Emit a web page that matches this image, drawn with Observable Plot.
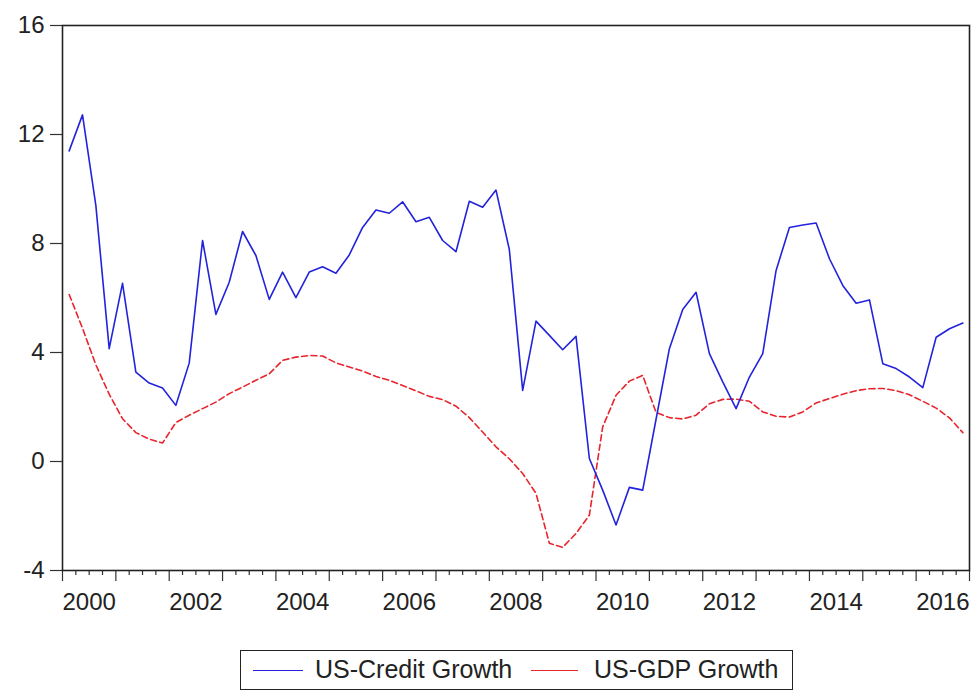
<!DOCTYPE html>
<html>
<head>
<meta charset="utf-8">
<script src="https://cdn.jsdelivr.net/npm/d3@7"></script>
<script src="https://cdn.jsdelivr.net/npm/@observablehq/plot@0.6"></script>
<style>
  html, body { margin: 0; padding: 0; background: #fff; }
  #wrap { position: relative; width: 977px; height: 694px; font-family: "Liberation Sans", Arial, sans-serif; }
  #legend { position: absolute; left: 240px; top: 650px; width: 553px; height: 40px; box-sizing: border-box;
            border: 1.5px solid #222; font-size: 25px; color: #222; }
  #legend .sw { position: absolute; top: 19px; height: 0; border-top: 1.5px solid; }
  #legend .lb { position: absolute; top: 0; line-height: 37px; white-space: nowrap; }
</style>
</head>
<body>
<div id="wrap">
  <div id="chart"></div>
  <div id="legend">
    <div class="sw" style="left:12px;width:50px;border-color:#2323dc"></div>
    <div class="lb" style="left:74px">US-Credit Growth</div>
    <div class="sw" style="left:290px;width:47px;border-color:#e8242c"></div>
    <div class="lb" style="left:353px">US-GDP Growth</div>
  </div>
</div>
<script>
// Quarterly series, 2000Q1 to 2016Q4 (year-on-year growth, %)
const startYear = 2000;
const endYear = 2016;

const creditGrowth = [
  11.40, 12.72, 9.40, 4.14,   // 2000
  6.54, 3.28, 2.88, 2.70,     // 2001
  2.06, 3.61, 8.11, 5.40,     // 2002
  6.58, 8.44, 7.56, 5.95,     // 2003
  6.95, 6.01, 6.95, 7.15,     // 2004
  6.91, 7.58, 8.59, 9.23,     // 2005
  9.11, 9.53, 8.80, 8.96,     // 2006
  8.11, 7.70, 9.55, 9.33,     // 2007
  9.96, 7.78, 2.61, 5.15,     // 2008
  4.63, 4.10, 4.59, 0.11,     // 2009
  -1.05, -2.33, -0.95, -1.05, // 2010
  1.55, 4.14, 5.58, 6.21,     // 2011
  3.96, 2.92, 1.94, 3.10,     // 2012
  3.96, 7.01, 8.59, 8.68,     // 2013
  8.75, 7.44, 6.46, 5.81,     // 2014
  5.93, 3.59, 3.41, 3.10,     // 2015
  2.71, 4.56, 4.87, 5.08      // 2016
];

const gdpGrowth = [
  6.13, 4.89, 3.55, 2.47,     // 2000
  1.57, 1.06, 0.82, 0.68,     // 2001
  1.43, 1.70, 1.94, 2.18,     // 2002
  2.49, 2.73, 2.98, 3.22,     // 2003
  3.71, 3.83, 3.89, 3.87,     // 2004
  3.62, 3.47, 3.32, 3.12,     // 2005
  2.98, 2.79, 2.59, 2.39,     // 2006
  2.27, 2.03, 1.61, 1.08,     // 2007
  0.54, 0.10, -0.44, -1.17,   // 2008
  -3.00, -3.15, -2.64, -1.97, // 2009
  1.27, 2.43, 2.95, 3.16,     // 2010
  1.80, 1.61, 1.56, 1.70,     // 2011
  2.12, 2.28, 2.29, 2.21,     // 2012
  1.82, 1.66, 1.63, 1.82,     // 2013
  2.15, 2.31, 2.47, 2.60,     // 2014
  2.67, 2.68, 2.60, 2.45,     // 2015
  2.21, 1.96, 1.60, 1.06      // 2016
];

const yTicks = [-4, 0, 4, 8, 12, 16];
const yearLabels = [2000, 2002, 2004, 2006, 2008, 2010, 2012, 2014, 2016];

// Each quarter sits in the middle of its span on a continuous year axis
const rows = creditGrowth.map((c, i) => {
  const year = startYear + Math.floor(i / 4);
  const q = (i % 4) + 1;
  return { quarter: `${year}Q${q}`, t: year + (q - 0.5) / 4, credit: c, gdp: gdpGrowth[i] };
});

const yearTicks = d3.range(startYear, endYear + 2);
const quarterTicks = d3.range(startYear * 4, (endYear + 1) * 4).map(d => d / 4).filter(d => d % 1 !== 0);
const labelTicks = yearLabels.map(y => y + 0.5);

const chart = Plot.plot({
  width: 977,
  height: 630,
  marginLeft: 62,
  marginRight: 8,
  marginTop: 25,
  marginBottom: 60,
  style: { fontFamily: "'Liberation Sans', Arial, sans-serif", fontSize: "24px", color: "#222", background: "#fff" },
  x: { domain: [startYear, endYear + 1], axis: null, label: null },
  y: { domain: [-4, 16], axis: null, label: null },
  marks: [
    Plot.axisY({ ticks: yTicks, label: null, tickSize: 12, tickPadding: 6, fontSize: 24, stroke: "#333", strokeWidth: 1.2, tickFormat: d => String(d) }),
    Plot.axisX({ ticks: yearTicks, label: null, tickSize: 11, stroke: "#333", strokeWidth: 1.2, tickFormat: () => "" }),
    Plot.axisX({ ticks: quarterTicks, label: null, tickSize: 5, stroke: "#333", strokeWidth: 1.2, tickFormat: () => "" }),
    Plot.axisX({ ticks: labelTicks, label: null, tickSize: 0, tickPadding: 22, fontSize: 24, tickFormat: d => String(Math.floor(d)) }),
    Plot.line(rows, { x: "t", y: "gdp", stroke: "#e8242c", strokeWidth: 1.6, strokeDasharray: "6,3.5" }),
    Plot.line(rows, { x: "t", y: "credit", stroke: "#2323dc", strokeWidth: 1.6 }),
    Plot.frame({ stroke: "#222", strokeWidth: 1.6 })
  ]
});

document.getElementById("chart").appendChild(chart);
</script>
</body>
</html>
